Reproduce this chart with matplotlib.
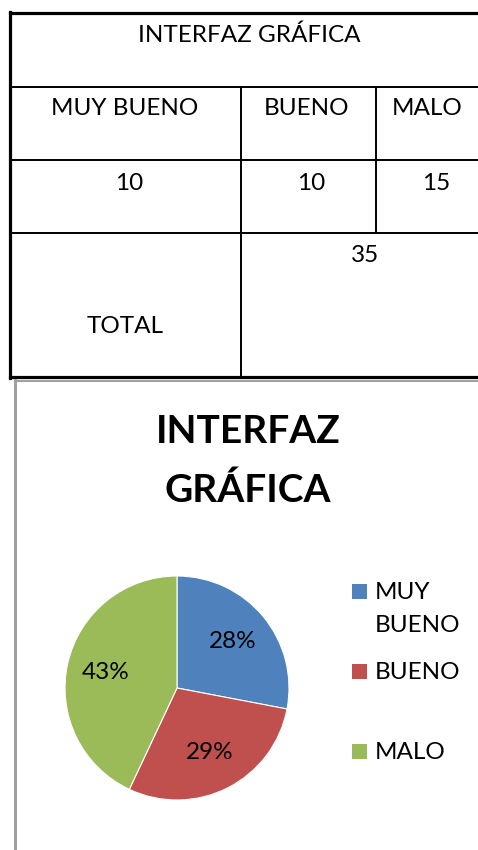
import matplotlib.pyplot as plt
from matplotlib.patches import Rectangle

plt.rcParams['font.family'] = ['Lato', 'DejaVu Sans']

# Survey counts shown in the table
title = 'INTERFAZ GRÁFICA'
categories = ['MUY BUENO', 'BUENO', 'MALO']
counts = [10, 10, 15]
total_label = 'TOTAL'
total = 35

# Percentages shown on the pie
pie_pct = [28, 29, 43]
legend_labels = ['MUY\nBUENO', 'BUENO', 'MALO']
colors = ['#4F81BD', '#C0504D', '#9BBB59']

W, H = 478, 850
fig = plt.figure(figsize=(W / 100, H / 100), dpi=100)

# full-figure axes in pixel units for the table, frame, title and legend
base = fig.add_axes([0, 0, 1, 1])
base.set_xlim(0, W)
base.set_ylim(H, 0)
base.axis('off')

# table grid
col_x = [10, 241, 376, 480]
row_y = [13, 87, 160, 233, 377]
outer_lw, inner_lw = 2.3, 1.4
base.plot([col_x[0], W + 2], [row_y[0]] * 2, color='black', lw=outer_lw)
base.plot([col_x[0], W + 2], [row_y[-1]] * 2, color='black', lw=outer_lw)
base.plot([col_x[0]] * 2, [row_y[0] - 1, row_y[-1] + 1], color='black', lw=outer_lw)
for y in row_y[1:-1]:
    base.plot([col_x[0], W + 2], [y, y], color='black', lw=inner_lw)
base.plot([col_x[1]] * 2, [row_y[1], row_y[-1]], color='black', lw=inner_lw)
base.plot([col_x[2]] * 2, [row_y[1], row_y[3]], color='black', lw=inner_lw)

tkw = dict(fontsize=17.5, color='black', ha='center', va='baseline')
base.text(249, 42, title, **tkw)
head_x = [125, 307, 427]
num_x = [129, 311, 436]
for cx, nx, cat, n in zip(head_x, num_x, categories, counts):
    base.text(cx, 115, cat, **tkw)
    base.text(nx, 190, str(n), **tkw)
base.text(365, 262, str(total), **tkw)
base.text(125, 333, total_label, **tkw)

# chart frame (grey)
base.plot([15.5, 15.5], [380, H + 2], color='#a0a0a0', lw=2.2)
base.plot([15.5, W + 2], [380.5, 380.5], color='#a0a0a0', lw=1.5)

# chart title
base.text(248, 443, 'INTERFAZ', fontsize=28, fontweight='bold',
          ha='center', va='baseline')
base.text(248, 502, 'GRÁFICA', fontsize=28, fontweight='bold',
          ha='center', va='baseline')

# legend: one swatch per entry, long labels wrap onto a second line
leg_base = [599, 679, 759]
for yb, lab, c in zip(leg_base, legend_labels, colors):
    base.add_patch(Rectangle((352, yb - 15), 15, 15, color=c, lw=0))
    for i, line in enumerate(lab.split('\n')):
        base.text(375, yb + 33 * i, line, fontsize=17.5, ha='left',
                  va='baseline')

# pie
cx, cy, r = 177, 688, 112
ax = fig.add_axes([(cx - r) / W, (H - cy - r) / H, 2 * r / W, 2 * r / H])
ax.pie(pie_pct, colors=colors, startangle=90, counterclock=False,
       autopct=lambda p: f'{p:.0f}%', pctdistance=0.65,
       wedgeprops=dict(edgecolor='white', linewidth=0.8),
       textprops=dict(fontsize=17.5, color='black'))
ax.set_xlim(-1, 1)
ax.set_ylim(-1, 1)

fig.savefig('out.png', dpi=100)
